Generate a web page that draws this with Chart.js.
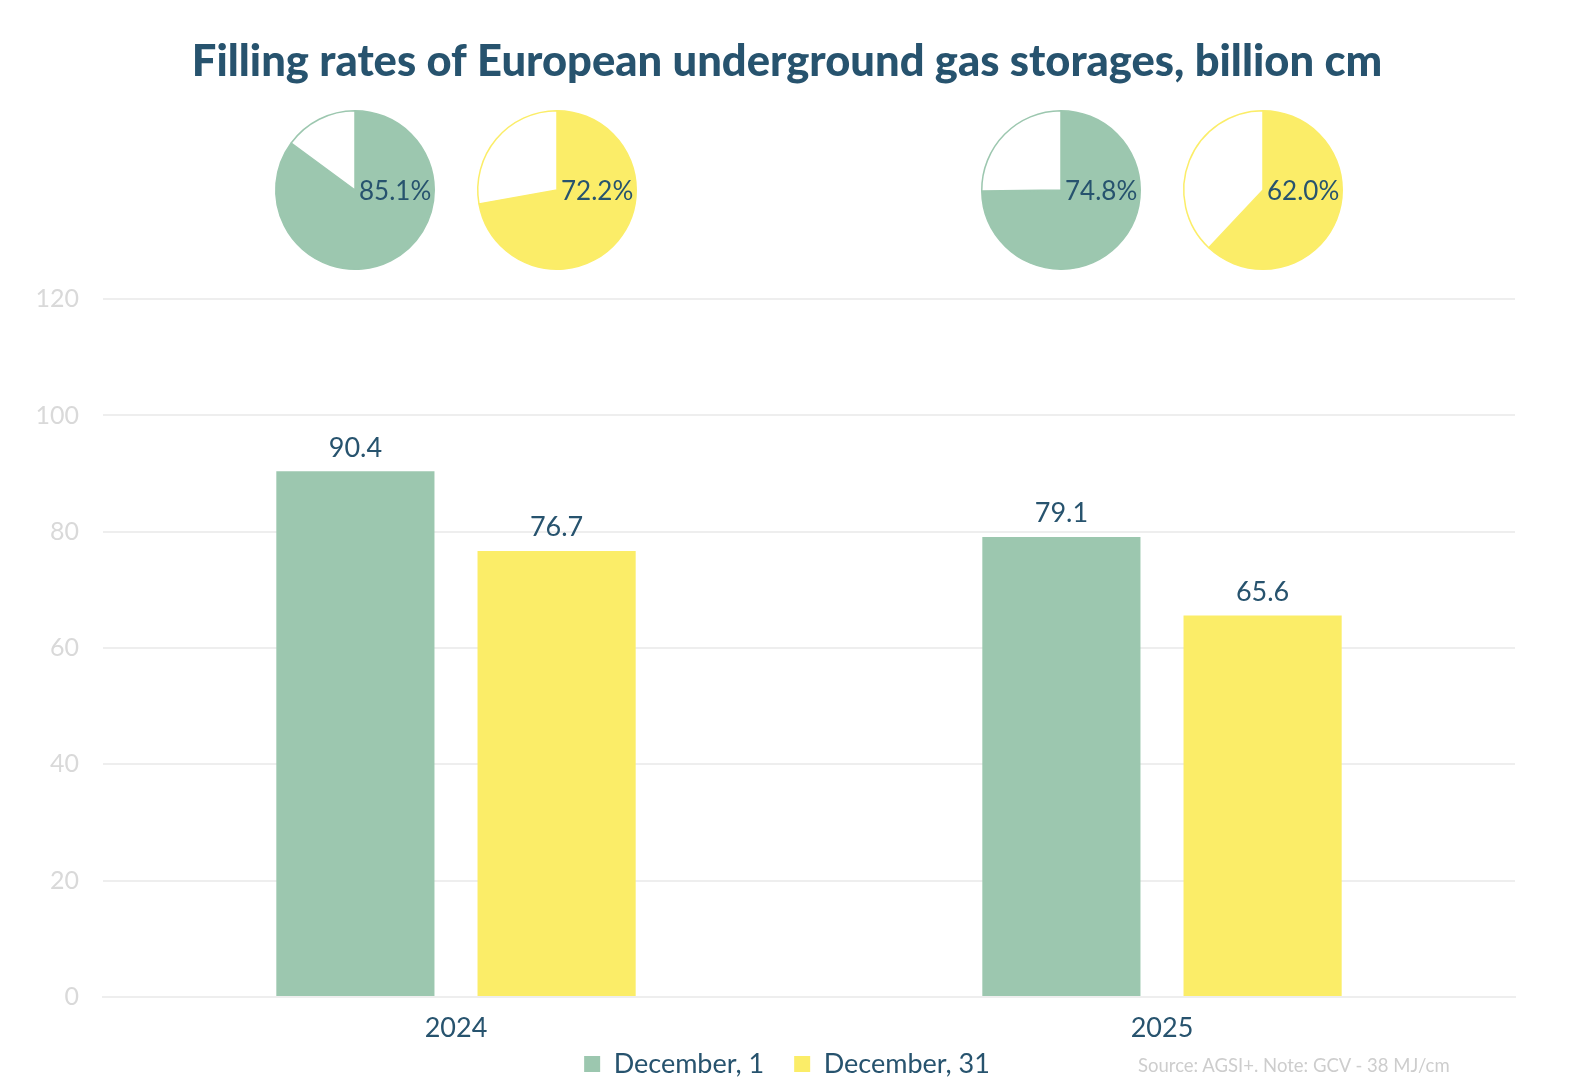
<!DOCTYPE html>
<html lang="en">
<head>
  <meta charset="UTF-8"/>
  <title>Filling rates of European underground gas storages</title>
  <script src="https://cdn.jsdelivr.net/npm/chart.js"></script>
  <style>
    body { margin: 0; background: #fff; }
    #wrap { position: relative; width: 1574px; height: 1090px; font-family: Lato, sans-serif; }
    #source { position: absolute; left: 1138px; top: 1054px; font-size: 18.5px; color: #cdcdcd; white-space: nowrap; }
    .pie { position: absolute; width: 220px; height: 170px; }
  </style>
</head>
<body>
  <div id="wrap">
    <canvas id="barChart" width="1574" height="1090"></canvas>
    <div id="source">Source: AGSI+. Note: GCV - 38 MJ/cm</div>
  </div>

  <script>
    const years = ['2024', '2025']
    const seriesNames = ['December, 1', 'December, 31']
    const dec1 = [90.4, 79.1]
    const dec31 = [76.7, 65.6]
    // storage filling, % of capacity
    const fillDec1 = [85.1, 74.8]
    const fillDec31 = [72.2, 62.0]
    const yMax = 120
    const yStep = 20

    const green = '#9cc7af'
    const yellow = '#fbed68'
    const navy = '#27536e'

    const valueLabels = {
      id: 'valueLabels',
      afterDatasetsDraw(chart) {
        const ctx = chart.ctx
        ctx.save()
        ctx.font = '27px Lato'
        ctx.fillStyle = navy
        ctx.textAlign = 'center'
        ctx.textBaseline = 'bottom'
        chart.data.datasets.forEach((ds, i) => {
          chart.getDatasetMeta(i).data.forEach((bar, j) => {
            ctx.fillText(ds.data[j].toFixed(1), bar.x, bar.y - 10)
          })
        })
        ctx.restore()
      }
    }

    const barChart = new Chart(document.getElementById('barChart'), {
      type: 'bar',
      data: {
        labels: years,
        datasets: [
          { label: seriesNames[0], data: dec1, backgroundColor: green },
          { label: seriesNames[1], data: dec31, backgroundColor: yellow }
        ]
      },
      options: {
        responsive: false,
        animation: false,
        categoryPercentage: 0.57,
        barPercentage: 0.786,
        layout: { padding: { top: 0, left: 0, right: 0, bottom: 2.5 } },
        scales: {
          y: {
            min: 0,
            max: yMax,
            ticks: { stepSize: yStep, color: '#d9d9d9', font: { family: 'Lato', size: 25 }, padding: 24 },
            grid: { color: '#eeeeee', lineWidth: 2, drawTicks: false },
            border: { display: false },
            afterFit(s) { s.width = 103 }
          },
          // empty right axis, only keeps the right margin
          yRight: {
            position: 'right',
            min: 0,
            max: yMax,
            ticks: { display: false },
            grid: { display: false, drawTicks: false },
            border: { display: false },
            afterFit(s) { s.width = 59 }
          },
          x: {
            // mirror + negative padding: labels sit below the axis without being clipped to the thin axis box
            ticks: { color: navy, font: { family: 'Lato', size: 27 }, mirror: true, padding: -47.2 },
            grid: { display: false, drawTicks: false },
            border: { color: '#eeeeee', width: 2 },
            afterFit(s) { s.height = 23.5 }
          }
        },
        plugins: {
          title: {
            display: true,
            text: 'Filling rates of European underground gas storages, billion cm',
            color: navy,
            font: { family: 'Lato', size: 43.5, weight: '900' },
            padding: { top: 36, bottom: 211 }
          },
          legend: {
            position: 'bottom',
            labels: {
              color: navy,
              font: { family: 'Lato', size: 27 },
              boxWidth: 16,
              boxHeight: 16,
              padding: 30
            }
          },
          tooltip: { enabled: false }
        }
      },
      plugins: [valueLabels]
    })

    const pieLabel = {
      id: 'pieLabel',
      afterDraw(chart) {
        const arc = chart.getDatasetMeta(0).data[0]
        const ctx = chart.ctx
        ctx.save()
        ctx.font = '26px Lato'
        ctx.fillStyle = navy
        ctx.textAlign = 'left'
        ctx.textBaseline = 'middle'
        ctx.fillText(chart.data.datasets[0].data[0].toFixed(1) + '%', arc.x + 4, arc.y + 2)
        ctx.restore()
      }
    }

    function makePie(value, color, x) {
      const div = document.createElement('div')
      div.className = 'pie'
      div.style.left = (x - 110) + 'px'
      div.style.top = (190 - 85) + 'px'
      const canvas = document.createElement('canvas')
      canvas.width = 220
      canvas.height = 170
      div.appendChild(canvas)
      document.getElementById('wrap').appendChild(div)
      new Chart(canvas, {
        type: 'pie',
        data: {
          labels: ['filled', 'empty'],
          datasets: [{
            data: [value, +(100 - value).toFixed(1)],
            backgroundColor: [color, '#ffffff'],
            borderColor: color,
            borderWidth: 1.5
          }]
        },
        options: {
          responsive: false,
          animation: false,
          layout: { padding: 5 },
          plugins: { legend: { display: false }, tooltip: { enabled: false } }
        },
        plugins: [pieLabel]
      })
    }

    const fills = [fillDec1, fillDec31]
    const colors = [green, yellow]
    fills.forEach((arr, i) => {
      barChart.getDatasetMeta(i).data.forEach((bar, j) => {
        makePie(arr[j], colors[i], bar.x)
      })
    })
  </script>
</body>
</html>
